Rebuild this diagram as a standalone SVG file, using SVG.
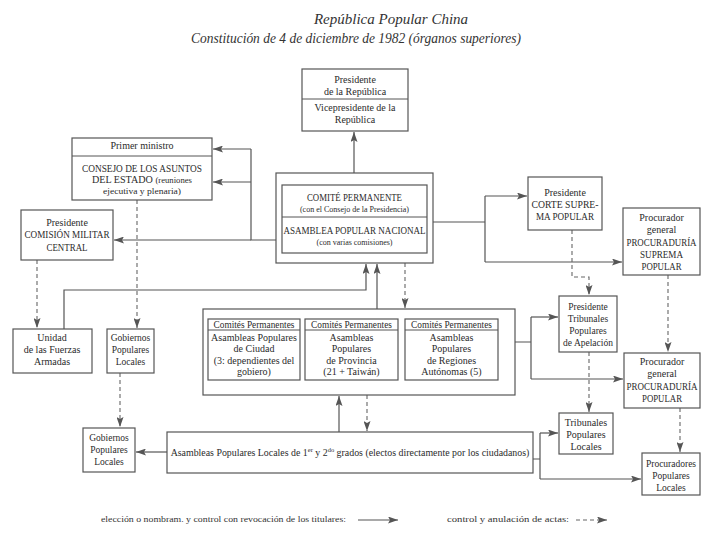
<svg xmlns="http://www.w3.org/2000/svg" width="720" height="540" viewBox="0 0 720 540">
<defs>
<marker id="ah" viewBox="0 0 10 7" refX="10" refY="3.5" markerWidth="10" markerHeight="7" markerUnits="userSpaceOnUse" orient="auto">
<path d="M0,0 L10,3.5 L0,7 L2,3.5 z" fill="#555"/>
</marker>
<style>
.bx{fill:none;stroke:#555;stroke-width:1.2}
.dv{stroke:#555;stroke-width:1}
.t{font-family:"Liberation Serif","DejaVu Serif",serif;font-size:10px;fill:#2b2b2b;text-anchor:middle}
.c{font-size:10.5px}
.s{font-size:8px}
.ln{fill:none;stroke:#555;stroke-width:1.2;marker-end:url(#ah)}
.pl{fill:none;stroke:#555;stroke-width:1.2}
.ds{fill:none;stroke:#666;stroke-width:1.1;stroke-dasharray:4 3;marker-end:url(#ah)}
.ti{font-family:"Liberation Serif","DejaVu Serif",serif;font-style:italic;font-size:15px;fill:#333;text-anchor:middle}
.lg{font-family:"Liberation Serif","DejaVu Serif",serif;font-size:9px;fill:#333}
</style>
</defs>
<rect width="720" height="540" fill="#ffffff"/>

<g id="title">
<text class="ti" x="391" y="24">República Popular China</text>
<text class="ti" x="356" y="43" textLength="330" lengthAdjust="spacingAndGlyphs">Constitución de 4 de diciembre de 1982 (órganos superiores)</text>
</g>

<g id="connectors">
<path class="ln" d="M354,173 V132"/>
<path class="pl" d="M276,240 H251 V149"/>
<path class="ln" d="M251,149 H213"/>
<path class="ln" d="M251,182 H213"/>
<path class="ln" d="M251,240 H114"/>
<path class="pl" d="M433,222 H485 M485,196 V262"/>
<path class="ln" d="M485,196 H527"/>
<path class="ln" d="M485,262 H622"/>
<path class="ln" d="M64,329 V290 H366 V264"/>
<path class="ln" d="M377,309 V264"/>
<path class="pl" d="M515,342 H531 M531,317 V379"/>
<path class="ln" d="M531,317 H558"/>
<path class="ln" d="M531,379 H623"/>
<path class="ln" d="M339,432 V396"/>
<path class="ln" d="M167,452 H136"/>
<path class="pl" d="M533,459 H540 M540,433 V479"/>
<path class="ln" d="M540,433 H558"/>
<path class="ln" d="M540,479 H641"/>
<path class="ds" d="M405,263 V308"/>
<path class="ds" d="M367,395 V431"/>
<path class="ds" d="M37,260 V328"/>
<path class="ds" d="M137,200 V328"/>
<path class="ds" d="M120,373 V427"/>
<path class="ds" d="M572,230 V277 H589 V295"/>
<path class="ds" d="M668,275 V352"/>
<path class="ds" d="M589,352 V412"/>
<path class="ds" d="M680,408 V452"/>
</g>

<g id="presidente">
<rect class="bx" x="302" y="69" width="106" height="62"/>
<line class="dv" x1="302" y1="99" x2="408" y2="99"/>
<text class="t" x="355" y="83">Presidente</text>
<text class="t" x="355" y="95">de la República</text>
<text class="t" x="355" y="111">Vicepresidente de la</text>
<text class="t" x="355" y="123">República</text>
</g>

<g id="primer-ministro">
<rect class="bx" x="72" y="138" width="140" height="62"/>
<line class="dv" x1="72" y1="156" x2="212" y2="156"/>
<text class="t" x="142" y="149">Primer ministro</text>
<text class="t c" x="142" y="172" textLength="120" lengthAdjust="spacingAndGlyphs">CONSEJO DE LOS ASUNTOS</text>
<text class="t" x="142" y="183" textLength="100" lengthAdjust="spacingAndGlyphs"><tspan class="c">DEL ESTADO </tspan><tspan style="font-size:9px">(reuniones</tspan></text>
<text class="t" x="142" y="194" style="font-size:9px" textLength="78" lengthAdjust="spacingAndGlyphs">ejecutiva y plenaria)</text>
</g>

<g id="comision-militar">
<rect class="bx" x="21" y="210" width="92" height="50"/>
<text class="t" x="67" y="226">Presidente</text>
<text class="t c" x="67" y="238" textLength="85" lengthAdjust="spacingAndGlyphs">COMISIÓN MILITAR</text>
<text class="t c" x="67" y="251" textLength="41" lengthAdjust="spacingAndGlyphs">CENTRAL</text>
</g>

<g id="unidad">
<rect class="bx" x="13" y="329" width="79" height="44"/>
<text class="t" x="52" y="341">Unidad</text>
<text class="t" x="52" y="353">de las Fuerzas</text>
<text class="t" x="52" y="365">Armadas</text>
</g>

<g id="gobiernos-1">
<rect class="bx" x="107" y="329" width="47" height="44"/>
<text class="t" x="130.5" y="341" style="font-size:9.5px">Gobiernos</text>
<text class="t" x="130.5" y="353" style="font-size:9.5px">Populares</text>
<text class="t" x="130.5" y="365" style="font-size:9.5px">Locales</text>
</g>

<g id="asamblea-nacional">
<rect class="bx" x="276" y="173" width="157" height="90"/>
<rect class="bx" x="282" y="185" width="145" height="68"/>
<line class="dv" x1="282" y1="217" x2="427" y2="217"/>
<text class="t c" x="354.5" y="201" textLength="95" lengthAdjust="spacingAndGlyphs">COMITÉ PERMANENTE</text>
<text class="t s" x="354.5" y="212">(con el Consejo de la Presidencia)</text>
<text class="t c" x="354.5" y="234" textLength="142" lengthAdjust="spacingAndGlyphs">ASAMBLEA POPULAR NACIONAL</text>
<text class="t s" x="354.5" y="245">(con varias comisiones)</text>
</g>

<g id="corte-suprema">
<rect class="bx" x="528" y="177" width="74" height="53"/>
<text class="t" x="565" y="196">Presidente</text>
<text class="t c" x="565" y="208" textLength="67" lengthAdjust="spacingAndGlyphs">CORTE SUPRE-</text>
<text class="t c" x="565" y="220" textLength="58" lengthAdjust="spacingAndGlyphs">MA POPULAR</text>
</g>

<g id="procuraduria-suprema">
<rect class="bx" x="623" y="208" width="77" height="67"/>
<text class="t" x="661.5" y="221">Procurador</text>
<text class="t" x="661.5" y="233">general</text>
<text class="t c" x="661.5" y="246" textLength="70" lengthAdjust="spacingAndGlyphs">PROCURADURÍA</text>
<text class="t c" x="661.5" y="258" textLength="43" lengthAdjust="spacingAndGlyphs">SUPREMA</text>
<text class="t c" x="661.5" y="270" textLength="40" lengthAdjust="spacingAndGlyphs">POPULAR</text>
</g>

<g id="asambleas-provinciales">
<rect class="bx" x="203" y="309" width="312" height="86"/>
<rect class="bx" x="208" y="319" width="92" height="61"/>
<rect class="bx" x="305" y="319" width="93" height="61"/>
<rect class="bx" x="405" y="319" width="93" height="61"/>
<line class="dv" x1="208" y1="330" x2="300" y2="330"/>
<line class="dv" x1="305" y1="330" x2="398" y2="330"/>
<line class="dv" x1="405" y1="330" x2="498" y2="330"/>
<text class="t" x="254" y="328" style="font-size:9.3px">Comités Permanentes</text>
<text class="t" x="351.5" y="328" style="font-size:9.3px">Comités Permanentes</text>
<text class="t" x="451.5" y="328" style="font-size:9.3px">Comités Permanentes</text>
<text class="t" x="254" y="341">Asambleas Populares</text>
<text class="t" x="254" y="352">de Ciudad</text>
<text class="t" x="254" y="364">(3: dependientes del</text>
<text class="t" x="254" y="375">gobiero)</text>
<text class="t" x="351.5" y="341">Asambleas</text>
<text class="t" x="351.5" y="352">Populares</text>
<text class="t" x="351.5" y="364">de Provincia</text>
<text class="t" x="351.5" y="375">(21 + Taiwán)</text>
<text class="t" x="451.5" y="341">Asambleas</text>
<text class="t" x="451.5" y="352">Populares</text>
<text class="t" x="451.5" y="364">de Regiones</text>
<text class="t" x="451.5" y="375">Autónomas (5)</text>
</g>

<g id="tribunales-apelacion">
<rect class="bx" x="559" y="296" width="58" height="56"/>
<text class="t" x="588" y="310" style="font-size:9.5px">Presidente</text>
<text class="t" x="588" y="322" style="font-size:9.5px">Tribunales</text>
<text class="t" x="588" y="334" style="font-size:9.5px">Populares</text>
<text class="t" x="588" y="346" style="font-size:9.5px">de Apelación</text>
</g>

<g id="procuraduria-popular">
<rect class="bx" x="624" y="353" width="76" height="55"/>
<text class="t" x="662" y="365">Procurador</text>
<text class="t" x="662" y="377">general</text>
<text class="t c" x="662" y="390" textLength="71" lengthAdjust="spacingAndGlyphs">PROCURADURÍA</text>
<text class="t c" x="662" y="402" textLength="40" lengthAdjust="spacingAndGlyphs">POPULAR</text>
</g>

<g id="gobiernos-2">
<rect class="bx" x="83" y="428" width="52" height="44"/>
<text class="t" x="109" y="441" style="font-size:9.5px">Gobiernos</text>
<text class="t" x="109" y="453" style="font-size:9.5px">Populares</text>
<text class="t" x="109" y="465" style="font-size:9.5px">Locales</text>
</g>

<g id="asambleas-locales">
<rect class="bx" x="167" y="432" width="366" height="41"/>
<text class="t" x="350" y="456" style="font-size:9.9px">Asambleas Populares Locales de 1<tspan dy="-4" style="font-size:6.5px">er</tspan><tspan dy="4"> y 2</tspan><tspan dy="-4" style="font-size:6.5px">do</tspan><tspan dy="4"> grados (electos directamente por los ciudadanos)</tspan></text>
</g>

<g id="tribunales-locales">
<rect class="bx" x="559" y="413" width="54" height="41"/>
<text class="t" x="586" y="426">Tribunales</text>
<text class="t" x="586" y="438">Populares</text>
<text class="t" x="586" y="450">Locales</text>
</g>

<g id="procuradores-locales">
<rect class="bx" x="642" y="453" width="58" height="42"/>
<text class="t" x="671" y="467" style="font-size:9.5px">Procuradores</text>
<text class="t" x="671" y="479" style="font-size:9.5px">Populares</text>
<text class="t" x="671" y="491" style="font-size:9.5px">Locales</text>
</g>

<g id="legend">
<text class="lg" x="101" y="522" textLength="245" lengthAdjust="spacingAndGlyphs">elección o nombram. y control con revocación de los titulares:</text>
<path class="ln" d="M358,520 H398"/>
<text class="lg" x="447" y="522" textLength="122" lengthAdjust="spacingAndGlyphs">control y anulación de actas:</text>
<path class="ds" d="M576,520 H607"/>
</g>
</svg>
